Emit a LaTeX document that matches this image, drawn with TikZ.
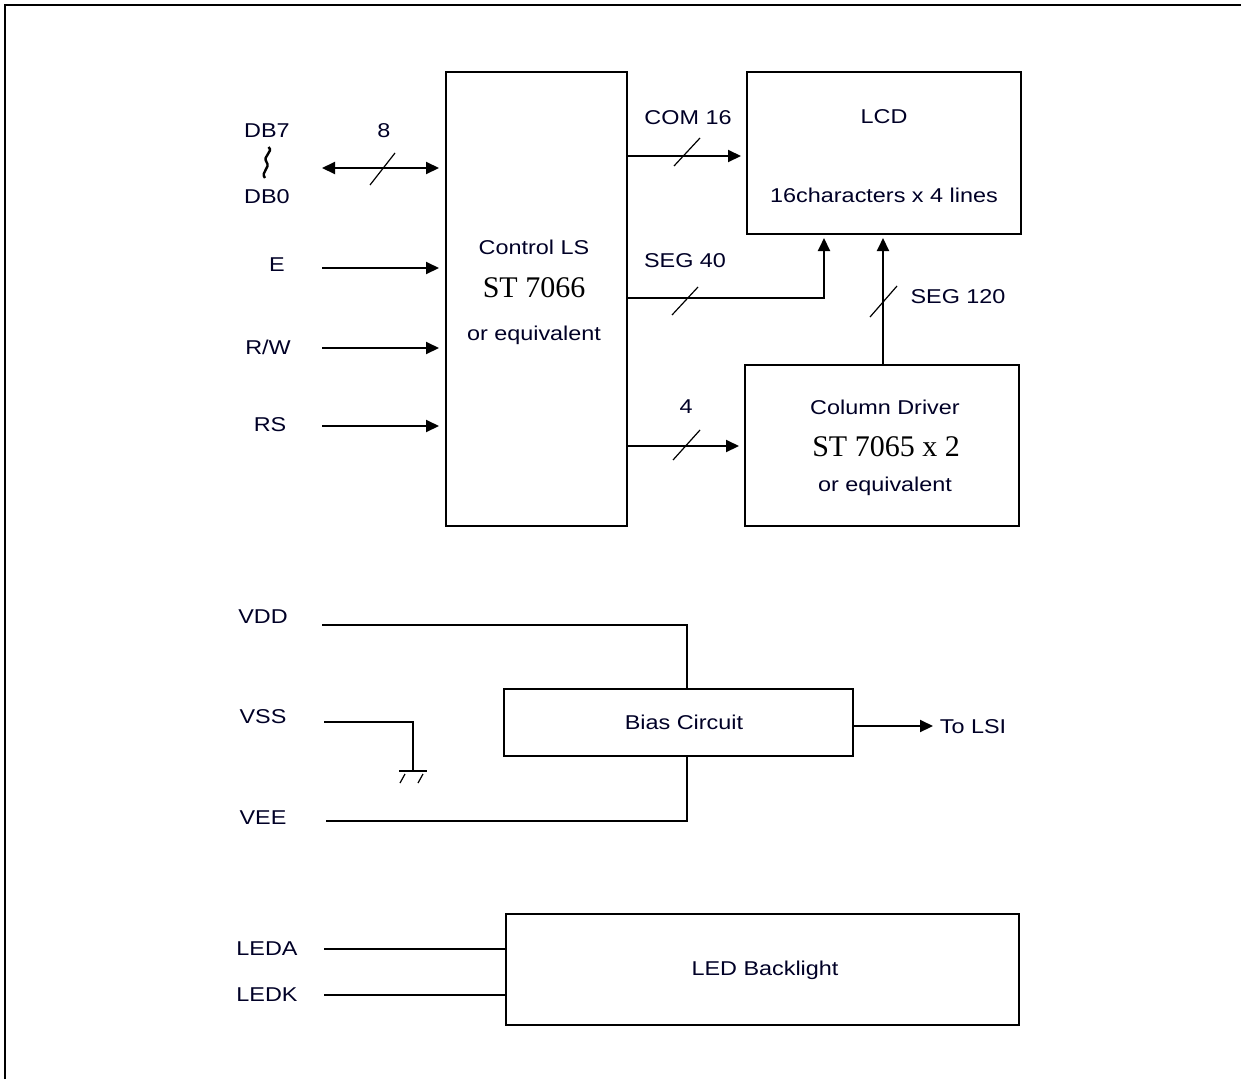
\documentclass[tikz,border=0pt]{standalone}
\usepackage{fontspec}
\setmainfont{Liberation Sans}[FakeStretch=1.17]
\newfontfamily\serifst{Liberation Serif}
\usetikzlibrary{arrows.meta}
\begin{document}
\begin{tikzpicture}[x=1pt,y=-1pt,
  wire/.style={line width=2pt},
  arr/.style={wire,-{Triangle[length=13pt,width=12pt]},shorten >=5pt},
  darr/.style={wire,{Triangle[length=13pt,width=12pt]}-{Triangle[length=13pt,width=12pt]},shorten >=6pt},
  slash/.style={line width=1.2pt},
  blk/.style={draw,line width=2pt,inner sep=0pt,minimum width=#1},
  lbl/.style={font=\fontsize{20}{23}\selectfont,inner sep=0pt,text=black!85!blue},
  big/.style={font=\serifst\fontsize{30}{34}\selectfont,inner sep=0pt}]
\useasboundingbox (0,0) rectangle (1241,1079);
\draw[line width=1.8pt] (5,1079) -- (5,5) -- (1241,5);

% blocks
\node[blk=181pt,minimum height=454pt] (ctl) at (536.5,299) {};
\node[blk=274pt,minimum height=162pt] (lcd) at (884,153) {};
\node[blk=274pt,minimum height=161pt] (col) at (882,445.5) {};
\node[blk=349pt,minimum height=67pt] (bias) at (678.5,722.5) {};
\node[blk=513pt,minimum height=111pt] (led) at (762.5,969.5) {};

% block texts
\node[lbl] (ctlt1) at (534,247) {Control LS};
\node[big] (ctlt2) at (534,288) {ST 7066};
\node[lbl] (ctlt3) at (534,335) {or equivalent};
\node[lbl] (lcdt1) at (884,117) {LCD};
\node[lbl] (lcdt2) at (884,195) {16characters x 4 lines};
\node[lbl] (colt1) at (885,407) {Column Driver};
\node[big] (colt2) at (886,447) {ST 7065 x 2};
\node[lbl] (colt3) at (885,486) {or equivalent};
\node[lbl] (biast) at (684,722) {Bias Circuit};
\node[lbl] (ledt) at (765,970) {LED Backlight};

% signal labels
\node[lbl] (db7) at (267,131) {DB7};
\node[lbl] (db0) at (267,197) {DB0};
\node[lbl] (e) at (277,265) {E};
\node[lbl] (rw) at (268,347) {R/W};
\node[lbl] (rs) at (270,425) {RS};
\node[lbl] (vdd) at (263,617) {VDD};
\node[lbl] (vss) at (263,717) {VSS};
\node[lbl] (vee) at (263,818) {VEE};
\node[lbl] (leda) at (267,949) {LEDA};
\node[lbl] (ledk) at (267,995) {LEDK};
\draw[line width=2.4pt] (268.5,147) .. controls (274,152) and (262,156) .. (266.5,162)
      .. controls (271,168) and (260,172) .. (265,178);

% bus labels
\node[lbl] (n8) at (384,131) {8};
\node[lbl] (com) at (688,118) {COM 16};
\node[lbl] (seg40) at (685,261) {SEG 40};
\node[lbl] (seg120) at (958,297) {SEG 120};
\node[lbl] (n4) at (686,407) {4};
\node[lbl] (tolsi) at (973,727) {To LSI};

% input coordinates
\coordinate (dbs) at (322,168);
\coordinate (es) at (322,268);
\coordinate (rws) at (322,348);
\coordinate (rss) at (322,426);
\draw[darr] (dbs) -- (dbs -| ctl.west);
\draw[slash] (370,185) -- (395,153);
\draw[arr,shorten >=6pt] (es) -- (es -| ctl.west);
\draw[arr,shorten >=6pt] (rws) -- (rws -| ctl.west);
\draw[arr,shorten >=6pt] (rss) -- (rss -| ctl.west);

% control to LCD / driver
\coordinate (coms) at (627,156);
\draw[arr] (coms) -- (coms -| lcd.west);
\draw[slash] (674,166) -- (700,138);
\coordinate (segs) at (627,298);
\coordinate (segc) at (824,298);
\draw[arr,shorten >=3pt] (segs) -- (segc) -- (segc |- lcd.south);
\draw[slash] (672,315) -- (698,287);
\coordinate (fours) at (627,446);
\draw[arr] (fours) -- (fours -| col.west);
\draw[slash] (673,460) -- (700,430);
\coordinate (s120) at (883,365);
\draw[arr,shorten >=3pt] (s120) -- (s120 |- lcd.south);
\draw[slash] (870,317) -- (897,286);

% power
\coordinate (vdds) at (322,625);
\coordinate (vddc) at (687,625);
\draw[wire] (vdds) -- (vddc) -- (vddc |- bias.north);
\coordinate (vsss) at (324,722);
\coordinate (gnd) at (413,771);
\draw[wire] (vsss) -- (gnd |- vsss) -- (gnd);
\draw[wire] (399,771) -- (427,771);
\draw[slash] (405,774) -- (400,783);
\draw[slash] (423,774) -- (418,783);
\coordinate (vees) at (326,821);
\coordinate (veec) at (687,821);
\draw[wire] (vees) -- (veec) -- (veec |- bias.south);
\coordinate (lsi) at (933,726);
\draw[arr,shorten >=0pt] (bias.east |- lsi) -- (lsi);

% backlight
\coordinate (ledas) at (324,949);
\coordinate (ledks) at (324,995);
\draw[wire] (ledas) -- (ledas -| led.west);
\draw[wire] (ledks) -- (ledks -| led.west);
\end{tikzpicture}
\end{document}
